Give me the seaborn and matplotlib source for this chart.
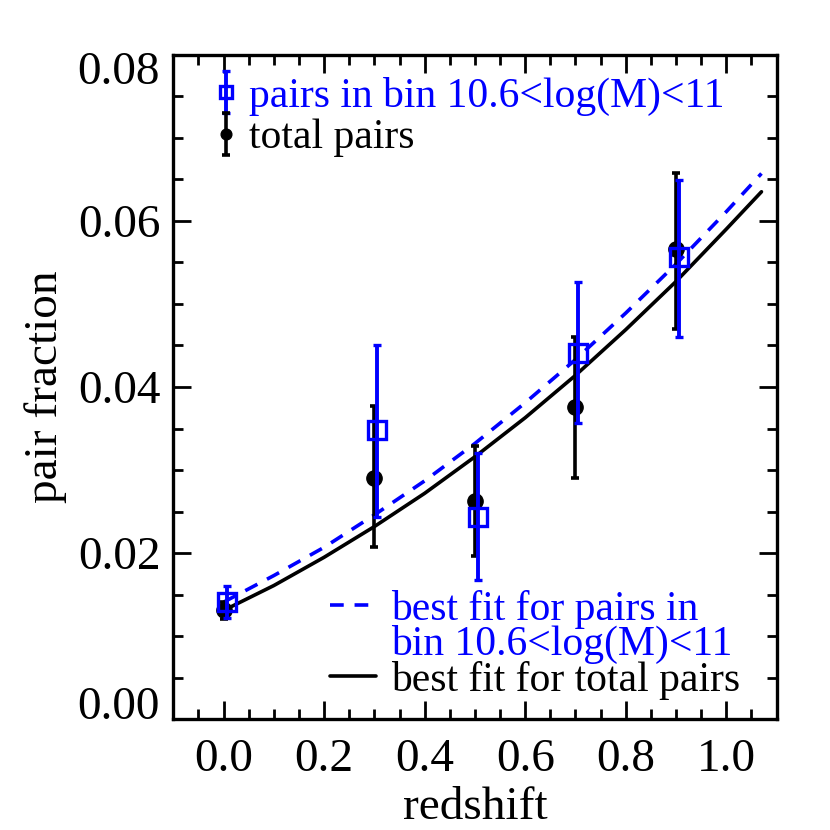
import numpy as np
import pandas as pd
import matplotlib
matplotlib.use("Agg")
import matplotlib.pyplot as plt
import seaborn as sns
from matplotlib.lines import Line2D
from matplotlib.ticker import MultipleLocator, FormatStrFormatter, FuncFormatter


z_total = [0.0, 0.3, 0.5, 0.7, 0.9]
frac_total = [0.0131, 0.0291, 0.0263, 0.0376, 0.0566]
err_total_lo = [0.0010, 0.0084, 0.0067, 0.0086, 0.0096]
err_total_hi = [0.0010, 0.0086, 0.0066, 0.0084, 0.0092]

z_bin = [0.006, 0.306, 0.506, 0.706, 0.906]
frac_bin = [0.0141, 0.0348, 0.0244, 0.0441, 0.0556]
err_bin_lo = [0.0019, 0.0105, 0.0076, 0.0084, 0.0096]
err_bin_hi = [0.0019, 0.0103, 0.0076, 0.0085, 0.0093]

# best fit curves, sampled off the figure
z_fit = [0.0, 0.1, 0.2, 0.3, 0.4, 0.5, 0.6, 0.7, 0.8, 0.9, 1.0, 1.07]
fit_total = [0.0131, 0.0161, 0.0195, 0.0232, 0.0272, 0.0316, 0.0363,
             0.0414, 0.0469, 0.0527, 0.0590, 0.0635]
fit_bin = [0.0141, 0.0173, 0.0207, 0.0246, 0.0287, 0.0332, 0.0381,
           0.0433, 0.0489, 0.0548, 0.0611, 0.0657]

y_range = (0.0, 0.08)

label_bin = "pairs in bin 10.6<log(M)<11"
label_total = "total pairs"
label_fit_bin = ["best fit for pairs in", "bin 10.6<log(M)<11"]
label_fit_total = "best fit for total pairs"

BLUE = "#0000ff"

sns.set_theme(style="ticks")
plt.rcParams["font.family"] = ["Liberation Serif", "DejaVu Serif"]
plt.rcParams["text.color"] = "black"
plt.rcParams["axes.labelcolor"] = "black"

fig = plt.figure(figsize=(8.3, 8.3), dpi=100)
ax = fig.add_axes([0.2088, 0.1334, 0.7268, 0.8007])

fits = pd.DataFrame({"z": z_fit, "total": fit_total, "bin": fit_bin})
sns.lineplot(data=fits, x="z", y="total", color="black", ax=ax)
sns.lineplot(data=fits, x="z", y="bin", color=BLUE, ax=ax)
line_total, line_bin = ax.lines[0], ax.lines[1]
line_total.set_linewidth(2.6)
line_bin.set_linewidth(2.6)
line_bin.set_dashes((3.8, 3.0))

eb_total = ax.errorbar(z_total, frac_total, yerr=[err_total_lo, err_total_hi],
                       fmt="o", color="black", ms=11, lw=2.6, capsize=3,
                       capthick=2.6, zorder=3)
eb_bin = ax.errorbar(z_bin, frac_bin, yerr=[err_bin_lo, err_bin_hi],
                     fmt="s", color=BLUE, mfc="none", mec=BLUE, ms=13, mew=2.4,
                     lw=2.8, capsize=3, capthick=2.8, zorder=4)

ax.set_xlim(-0.1, 1.1)
ax.set_ylim(*y_range)
ax.xaxis.set_major_locator(MultipleLocator(0.2))
ax.xaxis.set_minor_locator(MultipleLocator(0.05))
ax.yaxis.set_major_locator(MultipleLocator(0.02))
ax.yaxis.set_minor_locator(MultipleLocator(0.005))
ax.xaxis.set_major_formatter(FormatStrFormatter("%.1f"))


# the end labels of the y axis are pulled inside the frame (drawn below)
def ylab(v, pos):
    if np.isclose(v, y_range[0]) or np.isclose(v, y_range[1]):
        return ""
    return f"{v:.2f}"


ax.yaxis.set_major_formatter(FuncFormatter(ylab))
ax.tick_params(which="both", direction="in", top=True, right=True,
               labelsize=34, colors="black", width=2)
ax.tick_params(which="major", length=13)
ax.tick_params(axis="x", which="major", pad=14)
ax.tick_params(axis="y", which="major", pad=9)
ax.tick_params(which="minor", length=7)
for s in ax.spines.values():
    s.set_linewidth(2.4)
    s.set_color("black")

for v, va in zip(y_range, ["baseline", "top"]):
    ax.annotate(f"{v:.2f}", xy=(0, v), xycoords=("axes fraction", "data"),
                xytext=(-9.5, 0 if va == "baseline" else 2),
                textcoords="offset points", ha="right", va=va, fontsize=34)

ax.set_xlabel("redshift", fontsize=34, labelpad=4)
ax.set_ylabel("pair fraction", fontsize=34, labelpad=8)

leg1 = ax.legend([eb_bin, eb_total], [label_bin, label_total],
                 loc="upper left", bbox_to_anchor=(0.07, 0.967), frameon=False,
                 fontsize=30, handlelength=0.5, handletextpad=0.3,
                 labelspacing=0.08, borderpad=0, borderaxespad=0,
                 markerscale=0.7)
for txt, c in zip(leg1.get_texts(), [BLUE, "black"]):
    txt.set_color(c)
ax.add_artist(leg1)

blank = Line2D([], [], color="none")
leg2 = ax.legend([line_bin, blank, line_total],
                 label_fit_bin + [label_fit_total],
                 loc="upper left", bbox_to_anchor=(0.26, 0.195), frameon=False,
                 fontsize=30, handlelength=1.1, handletextpad=0.36,
                 labelspacing=-0.08, borderpad=0, borderaxespad=0)
for txt, c in zip(leg2.get_texts(), [BLUE, BLUE, "black"]):
    txt.set_color(c)

fig.savefig("out.png", dpi=100)
